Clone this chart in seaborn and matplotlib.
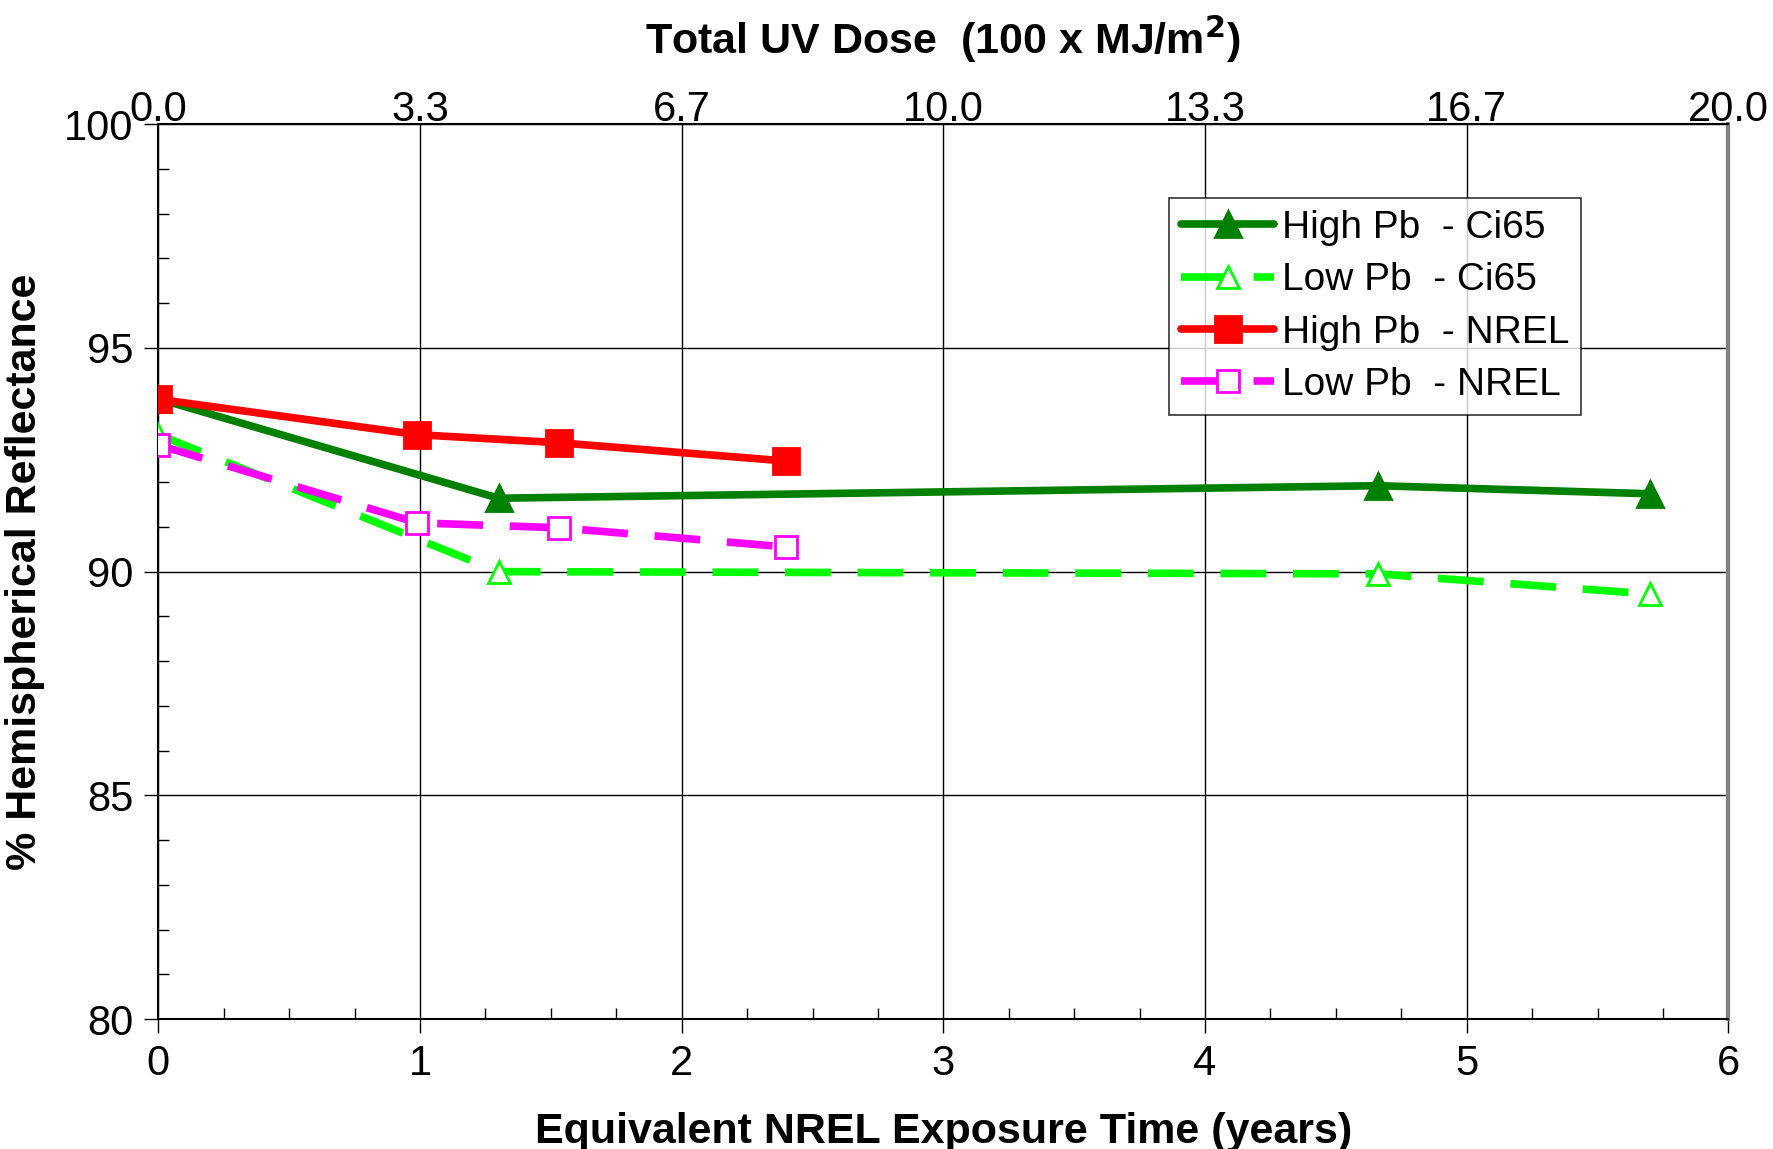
import numpy as np
import pandas as pd
import seaborn as sns
import matplotlib.pyplot as plt
from matplotlib.ticker import MultipleLocator

# data (years, % reflectance)
ci65_years = [0.0, 1.30, 4.66, 5.70]
high_ci65 = [93.86, 91.64, 91.92, 91.74]
low_ci65 = [93.06, 90.0, 89.95, 89.5]

nrel_years = [0.0, 0.99, 1.53, 2.40]
high_nrel = [93.85, 93.06, 92.88, 92.47]
low_nrel = [92.83, 91.09, 90.98, 90.55]

top_ticks = ["0.0", "3.3", "6.7", "10.0", "13.3", "16.7", "20.0"]

sns.set_style("white")
plt.rcParams['font.family'] = ['Liberation Sans', 'DejaVu Sans']
plt.rcParams['text.color'] = 'black'
plt.rcParams['axes.labelcolor'] = 'black'
plt.rcParams['xtick.color'] = 'black'
plt.rcParams['ytick.color'] = 'black'

fig = plt.figure(figsize=(17.74, 11.49), dpi=100)
ax = fig.add_axes([0.0893, 0.113, 0.885, 0.779])

series = [
    ("High Pb  - Ci65", ci65_years, high_ci65, "#008000", "^", True, "-"),
    ("Low Pb  - Ci65", ci65_years, low_ci65, "#00ff00", "^", False, (0, (6, 3.5))),
    ("High Pb  - NREL", nrel_years, high_nrel, "#ff0000", "s", True, "-"),
    ("Low Pb  - NREL", nrel_years, low_nrel, "#ff00ff", "s", False, (0, (6, 3.5))),
]

for name, xs, ys, col, mk, filled, ls in series:
    df = pd.DataFrame({"x": xs, "y": ys})
    sns.lineplot(data=df, x="x", y="y", ax=ax, color=col, linewidth=5.5,
                 marker=mk, markersize=19 if filled else 16,
                 markerfacecolor=col if filled else "white",
                 markeredgecolor=col, markeredgewidth=2,
                 linestyle=ls, label=name, zorder=3)

ax.set_xlim(0, 6)
ax.set_ylim(80, 100)
ax.xaxis.set_major_locator(MultipleLocator(1))
ax.xaxis.set_minor_locator(MultipleLocator(0.25))
ax.yaxis.set_major_locator(MultipleLocator(5))
ax.yaxis.set_minor_locator(MultipleLocator(1))
ax.grid(True, which="major", color="black", linewidth=1)
ax.tick_params(which="major", direction="out", length=10, width=1,
               labelsize=30, color="black", pad=8)
ax.tick_params(which="minor", direction="in", length=8, width=1, color="black")
ax.tick_params(axis="y", which="both", left=True)
ax.tick_params(axis="x", which="both", bottom=True)
for s in ax.spines.values():
    s.set_color("black")
    s.set_linewidth(1.5)
ax.spines["right"].set_color("#808080")
ax.spines["right"].set_linewidth(3)

ax.set_xlabel("Equivalent NREL Exposure Time (years)", fontsize=31,
              fontweight="bold", labelpad=20)
ax.set_ylabel("% Hemispherical Reflectance", fontsize=31,
              fontweight="bold", labelpad=14)

top = ax.twiny()
top.set_xlim(0, 20)
top.set_xticks(np.linspace(0, 20, 7))
top.set_xticklabels(top_ticks)
top.tick_params(axis="x", length=0, labelsize=30, pad=-4, colors="black")
top.set_xlabel("Total UV Dose  (100 x MJ/m$^\\mathbf{2}$)", fontsize=31,
               fontweight="bold", labelpad=26)
for s in top.spines.values():
    s.set_visible(False)

leg = ax.legend(loc="upper left", bbox_to_anchor=(0.644, 0.917), fontsize=28,
                frameon=True, fancybox=False, edgecolor="black",
                handlelength=2.4, handletextpad=0.2, borderpad=0.3,
                labelspacing=0.42, borderaxespad=0)
leg.get_frame().set_linewidth(1.2)

fig.savefig("out.png", dpi=100)
